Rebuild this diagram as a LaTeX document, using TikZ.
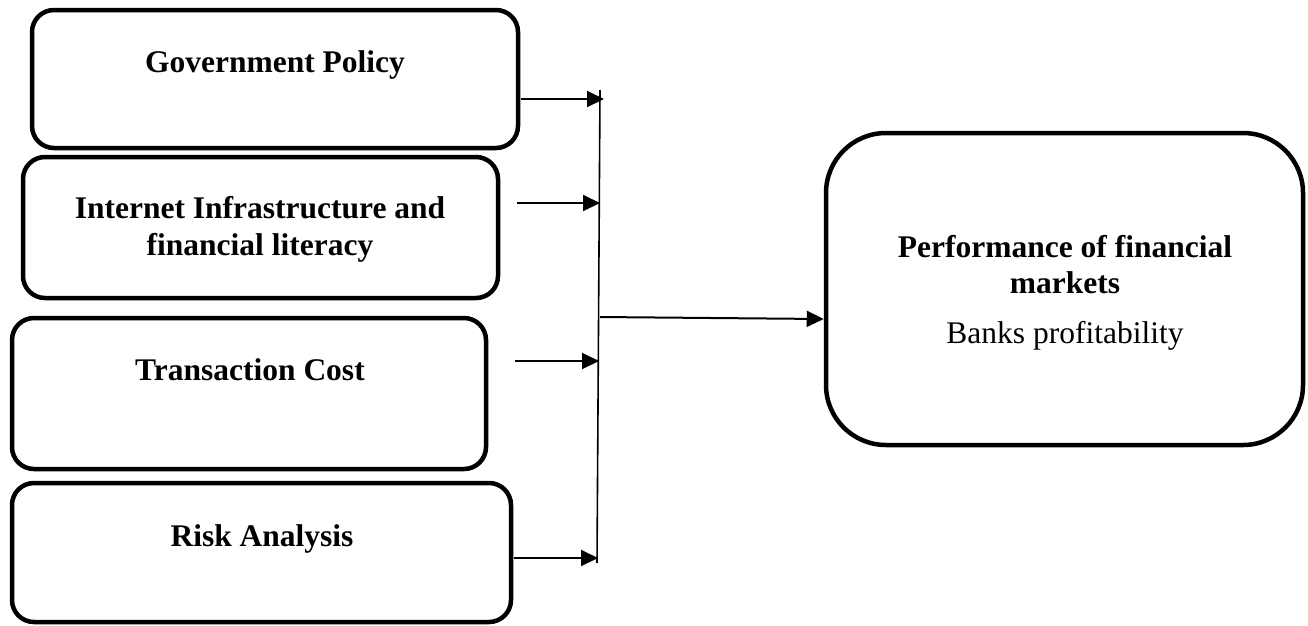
\documentclass[tikz,border=0pt]{standalone}
\usepackage{fontspec}
\setmainfont{Liberation Serif}
\usetikzlibrary{arrows.meta}
\begin{document}
\begin{tikzpicture}[x=1pt,y=-1pt,
  box/.style={draw=black,line width=4.5pt,rounded corners=22pt,inner sep=0pt},
  bigbox/.style={draw=black,line width=4.5pt,rounded corners=60pt,inner sep=0pt},
  btxt/.style={anchor=base,inner sep=0pt,font=\fontsize{31.5}{37}\selectfont\bfseries},
  rtxt/.style={anchor=base,inner sep=0pt,font=\fontsize{31.5}{37}\selectfont},
  arr/.style={line width=2pt,-{Triangle[length=17pt,width=16pt]}},
  bus/.style={line width=1.6pt}]
\useasboundingbox (0,0) rectangle (1308,625);
% boxes
\node[box,minimum width=486pt,minimum height=138pt] (b1) at (275,79) {};
\node[box,minimum width=475pt,minimum height=141pt] (b2) at (260.5,227.5) {};
\node[box,minimum width=474pt,minimum height=151pt] (b3) at (249,393.5) {};
\node[box,minimum width=499pt,minimum height=139pt] (b4) at (261.5,552.5) {};
\node[bigbox,minimum width=477pt,minimum height=312pt] (out) at (1064.5,289) {};
% texts
\node[btxt] (t1) at (275,72) {Government Policy};
\node[btxt] (t2a) at (260,218) {Internet Infrastructure and};
\node[btxt] (t2b) at (260,255) {financial literacy};
\node[btxt] (t3) at (250,380) {Transaction Cost};
\node[btxt] (t4) at (262,546) {Risk Analysis};
\node[btxt] (t5a) at (1065,257) {Performance of financial};
\node[btxt] (t5b) at (1065,293) {markets};
\node[rtxt] (t5c) at (1065,343) {Banks profitability};
% bus line
\coordinate (vtop) at (600,90);
\coordinate (vbot) at (597,563);
\draw[bus] (vtop) -- (vbot);
% arrow coordinates
\coordinate (s1) at (521,99);  \coordinate (e1) at (604,99);
\coordinate (s2) at (517,203); \coordinate (e2) at (600,203);
\coordinate (s3) at (515,361); \coordinate (e3) at (599,361);
\coordinate (s4) at (514,558); \coordinate (e4) at (598,558);
\draw[arr] (s1) -- (e1);
\draw[arr] (s2) -- (e2);
\draw[arr] (s3) -- (e3);
\draw[arr] (s4) -- (e4);
\coordinate (m) at (600,317);
\coordinate (mh) at (0,319);
\draw[arr] (m) -- (out.west |- mh);
\end{tikzpicture}
\end{document}
